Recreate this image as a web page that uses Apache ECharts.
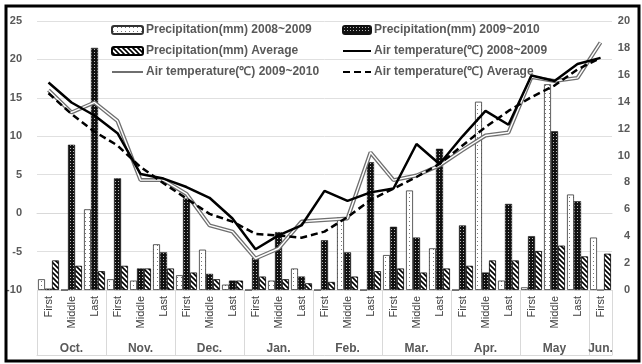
<!DOCTYPE html>
<html>
<head>
<meta charset="utf-8">
<script src="https://cdn.jsdelivr.net/npm/echarts@6/dist/echarts.min.js"></script>
<style>
html,body{margin:0;padding:0;background:#fff;}
#chart{width:642px;height:364px;}
</style>
</head>
<body>
<div id="chart"></div>
<script>
const periods = ['First','Middle','Last','First','Middle','Last','First','Middle','Last','First','Middle','Last','First','Middle','Last','First','Middle','Last','First','Middle','Last','First','Middle','Last','First'];
const months = ['Oct.','Nov.','Dec.','Jan.','Feb.','Mar.','Apr.','May','Jun.'];
const leftTicks = [-10, 25, 5];
const rightTicks = [0, 20, 2];

const precip0809 = [0.8, 0, 6.0, 0.8, 0.7, 3.4, 1.1, 3.0, 0.4, 0, 0.7, 1.6, 0, 5.4, 0, 2.6, 7.4, 3.1, 0, 14.0, 0.7, 0.2, 15.3, 7.1, 3.9];
const precip0910 = [0.1, 10.8, 18.0, 8.3, 1.6, 2.8, 6.8, 1.2, 0.7, 2.4, 4.3, 1.0, 3.7, 2.8, 9.5, 4.7, 3.9, 10.5, 4.8, 1.3, 6.4, 4.0, 11.8, 6.6, 0];
const precipAvg = [2.2, 1.8, 1.4, 1.8, 1.6, 1.6, 1.3, 0.8, 0.7, 1.0, 0.8, 0.5, 0.6, 1.0, 1.4, 1.6, 1.3, 1.6, 1.8, 2.2, 2.2, 2.9, 3.3, 2.5, 2.7];

const temp0809 = [17.0, 14.4, 12.7, 10.4, 5.1, 4.5, 3.4, 2.0, -0.7, -4.7, -2.9, -1.6, 2.9, 1.6, 2.7, 3.2, 9.0, 6.4, 10.0, 13.3, 11.5, 17.9, 17.2, 19.4, 20.2];
const temp0910 = [16.0, 13.1, 14.4, 12.0, 4.3, 4.3, 2.5, -1.6, -2.4, -5.9, -4.6, -1.1, -0.9, -0.7, 7.9, 4.3, 4.9, 6.2, 8.2, 10.1, 10.5, 17.7, 17.2, 17.6, 22.2];
const tempAvg = [15.6, 12.9, 10.6, 8.8, 6.0, 3.9, 1.9, -0.1, -1.1, -2.7, -2.9, -3.2, -2.4, -0.5, 1.7, 3.2, 4.7, 6.4, 8.8, 11.2, 13.3, 15.1, 16.6, 18.7, 20.2];

const names = {
  p1: 'Precipitation(mm) 2008~2009',
  p2: 'Precipitation(mm) 2009~2010',
  p3: 'Precipitation(mm) Average',
  t1: 'Air temperature(\u2103) 2008~2009',
  t2: 'Air temperature(\u2103) 2009~2010',
  t3: 'Air temperature(\u2103) Average'
};

function pattern(kind) {
  const c = document.createElement('canvas');
  const ctx = c.getContext('2d');
  if (kind === 'dots') {
    c.width = 4; c.height = 4;
    ctx.fillStyle = '#fff'; ctx.fillRect(0,0,4,4);
    ctx.fillStyle = '#777'; ctx.fillRect(1,1,1,1);
  } else if (kind === 'dark') {
    c.width = 3; c.height = 3;
    ctx.fillStyle = '#111'; ctx.fillRect(0,0,3,3);
    ctx.fillStyle = '#bbb'; ctx.fillRect(1,1,1,1);
  } else {
    c.width = 5; c.height = 5;
    ctx.fillStyle = '#fff'; ctx.fillRect(0,0,5,5);
    ctx.strokeStyle = '#000'; ctx.lineWidth = 1.6;
    ctx.beginPath();
    ctx.moveTo(-1,-1); ctx.lineTo(6,6);
    ctx.moveTo(-1,4); ctx.lineTo(1,6);
    ctx.moveTo(4,-1); ctx.lineTo(6,1);
    ctx.stroke();
  }
  return {image: c, repeat: 'repeat'};
}

const monthLabels = periods.map((p, i) => months[Math.floor(i / 3)]);
const fontFam = 'Liberation Sans, Arial, sans-serif';
const grey = '#595959';
const noSym = {color: 'rgba(0,0,0,0)', borderColor: 'rgba(0,0,0,0)', borderWidth: 0, opacity: 0};

const chart = echarts.init(document.getElementById('chart'), null, {renderer: 'canvas'});
chart.setOption({
  animation: false,
  backgroundColor: '#fff',
  grid: {left: 37, right: 30, top: 21, bottom: 74, containLabel: false},
  legend: [
    {
      left: 111, top: 23, padding: 0, orient: 'vertical', itemWidth: 31, itemHeight: 8, itemGap: 7,
      data: [names.p1, names.p3, {name: names.t2, itemStyle: noSym}],
      textStyle: {fontFamily: fontFam, fontWeight: 'bold', fontSize: 12, color: grey, lineHeight: 14, padding: [0,0,0,-2]}
    },
    {
      left: 342, top: 23, padding: 0, orient: 'vertical', itemWidth: 28, itemHeight: 8, itemGap: 7,
      data: [names.p2, {name: names.t1, itemStyle: noSym}, {name: names.t3, itemStyle: noSym}],
      textStyle: {fontFamily: fontFam, fontWeight: 'bold', fontSize: 12, color: grey, lineHeight: 14, padding: [0,0,0,-2]}
    }
  ],
  xAxis: [
    {
      type: 'category', data: periods, position: 'bottom',
      axisLine: {show: true, lineStyle: {color: '#d9d9d9'}},
      axisTick: {show: false},
      axisLabel: {interval: 0, rotate: 90, margin: 6, fontFamily: fontFam, fontSize: 11, color: '#404040'}
    },
    {
      type: 'category', data: monthLabels, position: 'bottom',
      axisLine: {show: false},
      axisTick: {show: true, length: 65, interval: (i) => i % 3 === 0, lineStyle: {color: '#d9d9d9'}},
      axisLabel: {
        interval: (i) => i % 3 === 1 || i === 24, margin: 53,
        fontFamily: fontFam, fontWeight: 'bold', fontSize: 12, color: grey
      }
    },
    {
      type: 'category', data: periods, position: 'bottom', offset: 65,
      axisLine: {show: true, lineStyle: {color: '#d9d9d9'}},
      axisTick: {show: false}, axisLabel: {show: false}
    }
  ],
  yAxis: [
    {
      type: 'value', min: leftTicks[0], max: leftTicks[1], interval: leftTicks[2],
      axisLine: {show: false}, axisTick: {show: false},
      splitLine: {show: true, lineStyle: {color: '#e0e0e0'}},
      axisLabel: {margin: 15, fontFamily: fontFam, fontWeight: 'bold', fontSize: 11, color: grey}
    },
    {
      type: 'value', min: rightTicks[0], max: rightTicks[1], interval: rightTicks[2],
      axisLine: {show: false}, axisTick: {show: false}, splitLine: {show: false},
      axisLabel: {margin: 18, align: 'right', fontFamily: fontFam, fontWeight: 'bold', fontSize: 11, color: grey}
    }
  ],
  series: [
    {name: names.p1, type: 'bar', yAxisIndex: 1, data: precip0809, barWidth: 7, barGap: '0%',
     itemStyle: {color: pattern('dots'), borderColor: '#333', borderWidth: 0.8}},
    {name: names.p2, type: 'bar', yAxisIndex: 1, data: precip0910, barWidth: 7, barGap: '0%',
     itemStyle: {color: pattern('dark'), borderColor: '#111', borderWidth: 0.5}},
    {name: names.p3, type: 'bar', yAxisIndex: 1, data: precipAvg, barWidth: 7, barGap: '0%',
     itemStyle: {color: pattern('hatch'), borderColor: '#000', borderWidth: 0.8}},
    {name: names.t2, type: 'line', yAxisIndex: 0, data: temp0910, symbol: 'none', z: 3,
     lineStyle: {color: '#6f6f6f', width: 4}, itemStyle: {color: '#6f6f6f'}},
    {name: names.t2 + ' inner', type: 'line', yAxisIndex: 0, data: temp0910, symbol: 'none', z: 4,
     lineStyle: {color: '#ffffff', width: 1.4}, itemStyle: {color: '#fff'}},
    {name: names.t1, type: 'line', yAxisIndex: 0, data: temp0809, symbol: 'none', z: 5,
     lineStyle: {color: '#000', width: 2.5}, itemStyle: {color: '#000'}},
    {name: names.t3, type: 'line', yAxisIndex: 0, data: tempAvg, symbol: 'none', z: 5,
     lineStyle: {color: '#000', width: 2.5, type: [7, 4]}, itemStyle: {color: '#000'}}
  ],
  graphic: [
    {type: 'rect', shape: {x: 6, y: 6, width: 633, height: 355}, silent: true, z: 100,
     style: {fill: 'none', stroke: '#000', lineWidth: 3}}
  ]
});
</script>
</body>
</html>
